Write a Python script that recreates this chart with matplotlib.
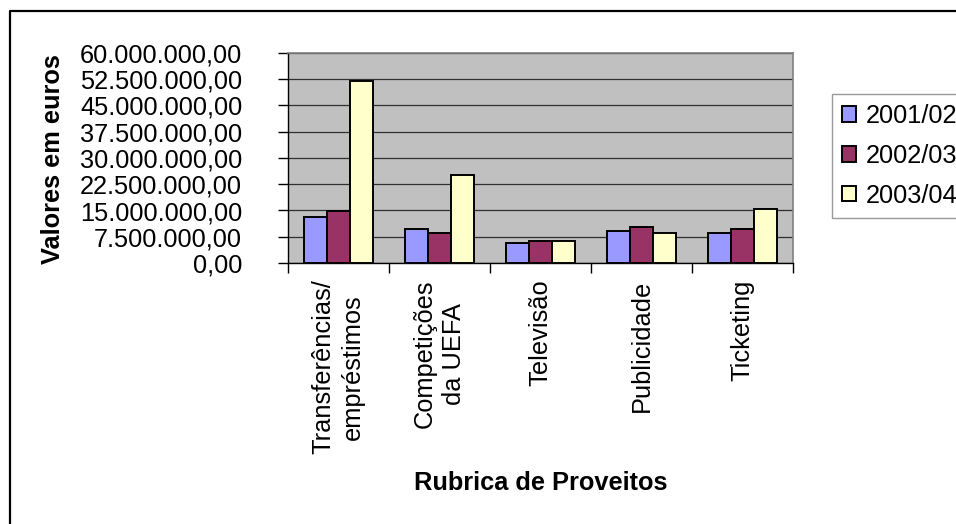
import matplotlib
matplotlib.use("Agg")
import matplotlib.pyplot as plt
from matplotlib.lines import Line2D
from matplotlib.patches import Patch
import numpy as np

categories = ["Transferências/\nempréstimos", "Competições\nda UEFA", "Televisão",
              "Publicidade", "Ticketing"]
series_names = ["2001/02", "2002/03", "2003/04"]
v_2001 = [13.2e6, 9.7e6, 5.6e6, 9.2e6, 8.6e6]
v_2002 = [14.9e6, 8.6e6, 6.4e6, 10.3e6, 9.7e6]
v_2003 = [52.1e6, 25.1e6, 6.4e6, 8.7e6, 15.4e6]
series_values = [v_2001, v_2002, v_2003]
colors = ["#9999FF", "#993366", "#FFFFCC"]
y_ticks = [0, 7.5e6, 15e6, 22.5e6, 30e6, 37.5e6, 45e6, 52.5e6, 60e6]
y_tick_labels = ["0,00", "7.500.000,00", "15.000.000,00", "22.500.000,00",
                 "30.000.000,00", "37.500.000,00", "45.000.000,00",
                 "52.500.000,00", "60.000.000,00"]

plt.rcParams['font.family'] = ['Liberation Sans', 'DejaVu Sans']
FS = 18.3

W, H = 956, 524
fig = plt.figure(figsize=(W / 100, H / 100), dpi=100)
fig.patch.set_facecolor("white")

ax = fig.add_axes([288 / W, 1 - 263 / H, (793 - 288) / W, (263 - 53) / H])
ax.set_facecolor("#C0C0C0")

x = np.arange(len(categories))
bw = 0.23
for i, (vals, col) in enumerate(zip(series_values, colors)):
    ax.bar(x + (i - 1) * bw, vals, width=bw, color=col, edgecolor="black",
           linewidth=1.4, zorder=3)

ax.set_xlim(-0.5, len(categories) - 0.5)
ax.set_ylim(0, 60e6)
ax.set_yticks(y_ticks)
ax.set_yticklabels(y_tick_labels, fontsize=FS)
ax.tick_params(axis="y", direction="out", length=7, width=1, pad=26, color="black")

ax.set_xticks(np.arange(-0.5, len(categories)), labels=[])
ax.tick_params(axis="x", which="major", direction="out", length=7, width=1, color="black")
ax.set_xticks(x, labels=categories, minor=True)
ax.tick_params(axis="x", which="minor", length=0, pad=12)
for lbl in ax.get_xticklabels(minor=True):
    lbl.set_rotation(90)
    lbl.set_fontsize(FS)
    lbl.set_va("top")
    lbl.set_ha("center")
    lbl.set_multialignment("center")
    lbl.set_linespacing(1.3)

ax.yaxis.grid(True, color="#303030", linewidth=0.9)
ax.set_axisbelow(True)
for s in ["top", "right"]:
    ax.spines[s].set_color("#808080")
    ax.spines[s].set_linewidth(1.2)
for s in ["left", "bottom"]:
    ax.spines[s].set_color("black")
    ax.spines[s].set_linewidth(1.0)

fig.text(53 / W, 1 - 159.5 / H, "Valores em euros", rotation=90, fontsize=FS,
         fontweight="bold", ha="center", va="center")
fig.text(541 / W, 1 - 483 / H, "Rubrica de Proveitos", fontsize=FS,
         fontweight="bold", ha="center", va="center")

handles = [Patch(facecolor=c, edgecolor="black", linewidth=1.4) for c in colors]
leg = fig.legend(handles, series_names, loc="upper left",
                 bbox_to_anchor=(832 / W, 1 - 94 / H), bbox_transform=fig.transFigure,
                 fontsize=FS, frameon=True, fancybox=False, borderaxespad=0,
                 handlelength=0.56, handleheight=0.56, handletextpad=0.35,
                 labelspacing=0.62, borderpad=0.4)
leg.get_frame().set_edgecolor("#808080")
leg.get_frame().set_linewidth(1.0)

y_top = 1 - 11 / H
x_left = 10 / W
fig.add_artist(Line2D([x_left, x_left, 1.0], [0.0, y_top, y_top],
                      transform=fig.transFigure, color="black", linewidth=1.6))

fig.savefig("out.png", dpi=100)
